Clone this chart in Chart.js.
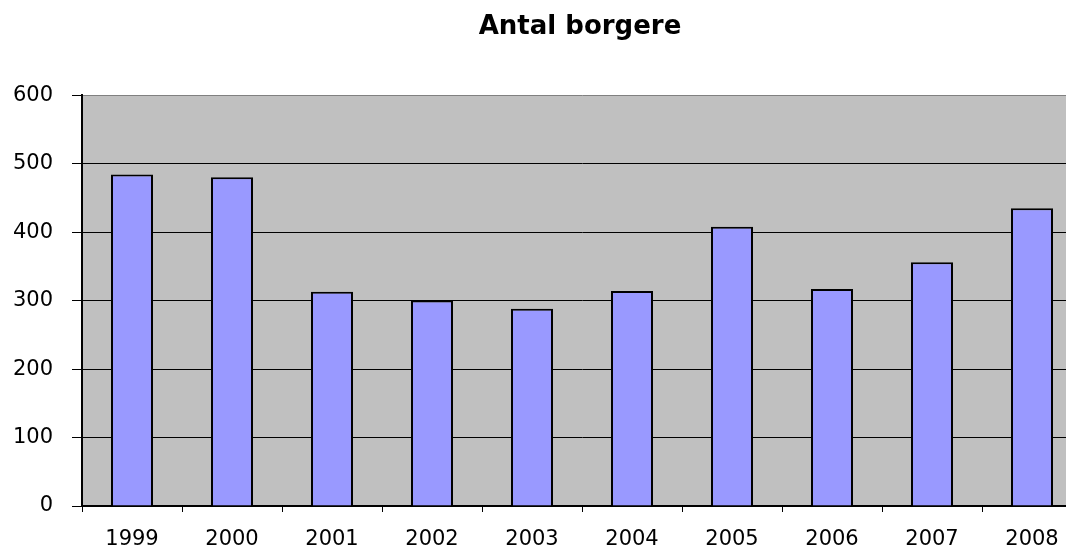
<!DOCTYPE html>
<html>
<head>
<meta charset="utf-8">
<script src="https://cdn.jsdelivr.net/npm/chart.js@4"></script>
<style>
  html, body { margin: 0; padding: 0; background: #fff; overflow: hidden; }
  #wrap { width: 1160px; height: 547px; }
</style>
</head>
<body>
<div id="wrap"><canvas id="chart"></canvas></div>
<script>
const years = ["1999", "2000", "2001", "2002", "2003", "2004", "2005", "2006", "2007", "2008"];
const borgere = [484, 480, 313, 300, 288, 314, 408, 317, 356, 435];
const yTicks = [0, 100, 200, 300, 400, 500, 600];

// grey plot background
const plotBg = {
  id: "plotBg",
  beforeDraw(chart) {
    const { ctx, chartArea: a } = chart;
    ctx.save();
    ctx.fillStyle = "#c0c0c0";
    ctx.fillRect(a.left, a.top, a.right - a.left, a.bottom - a.top);
    ctx.restore();
  }
};

const tickFont = { family: "DejaVu Sans", size: 21 };

new Chart(document.getElementById("chart"), {
  type: "bar",
  data: {
    labels: years,
    datasets: [{
      label: "Antal borgere",
      data: borgere,
      backgroundColor: "#9999ff",
      borderColor: "#000",
      borderWidth: 2,
      barPercentage: 0.42,
      categoryPercentage: 1
    }]
  },
  options: {
    responsive: true,
    maintainAspectRatio: false,
    animation: false,
    layout: { padding: 0 },
    plugins: {
      legend: { display: false },
      tooltip: { enabled: false },
      title: {
        display: true,
        text: "Antal borgere",
        color: "#000",
        font: { family: "DejaVu Sans", size: 26, weight: "bold" },
        padding: { top: 12, bottom: 52 }
      }
    },
    scales: {
      x: {
        offset: true,
        grid: {
          offset: true,
          drawOnChartArea: false,
          tickLength: 6,
          tickColor: "#000",
          tickWidth: 1
        },
        border: { color: "#000", width: 2 },
        ticks: {
          color: "#000",
          padding: 15,
          maxRotation: 0,
          font: tickFont
        },
        afterFit(scale) { scale.height = 41; }
      },
      y: {
        min: 0,
        max: 600,
        afterBuildTicks(scale) { scale.ticks = yTicks.map(v => ({ value: v })); },
        grid: {
          color: ctx => ctx.tick && ctx.tick.value === 600 ? "#808080" : "#000",
          lineWidth: 1,
          tickLength: 10,
          tickColor: "#000",
          drawTicks: true
        },
        border: { color: "#000", width: 2 },
        ticks: {
          color: "#000",
          padding: 19,
          font: tickFont
        },
        afterFit(scale) { scale.width = 82; }
      },
      // empty spacer on the right so the plot ends past the window edge
      yRight: {
        position: "right",
        min: 0,
        max: 600,
        grid: { display: false },
        border: { display: false },
        ticks: { display: false },
        afterFit(scale) { scale.width = 78; }
      }
    }
  },
  plugins: [plotBg]
});
</script>
</body>
</html>
